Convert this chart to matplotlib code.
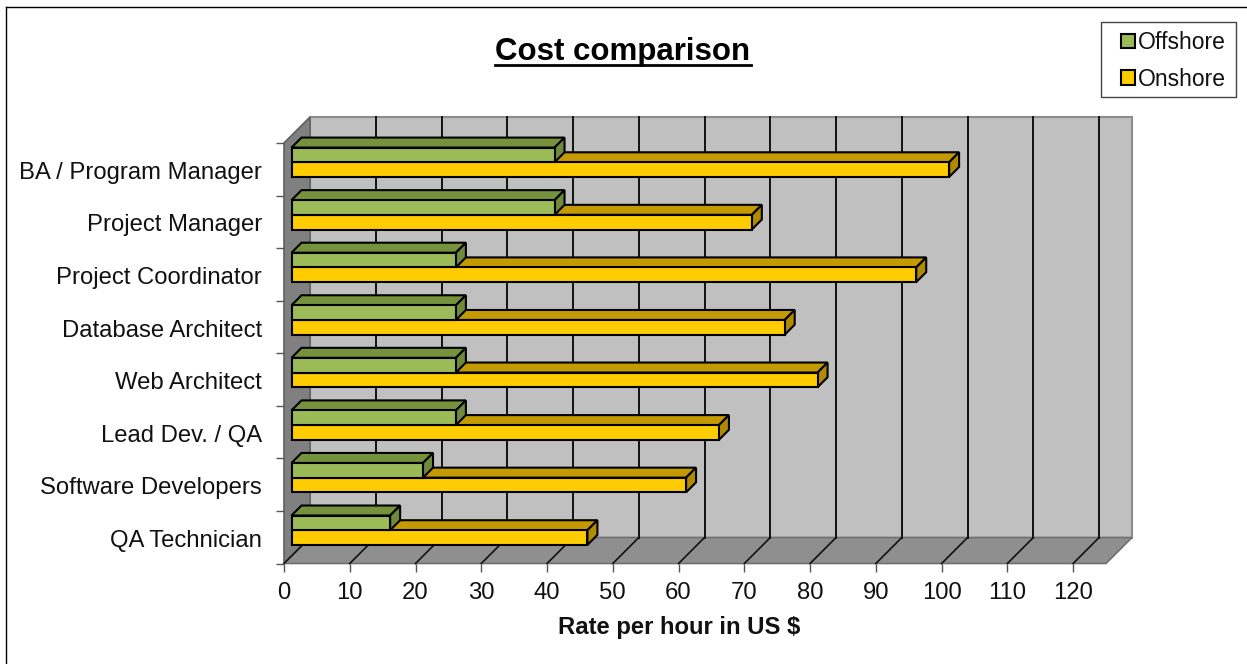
import matplotlib
matplotlib.use("Agg")
import matplotlib.pyplot as plt
from matplotlib.patches import Polygon, Rectangle, Patch
from matplotlib.lines import Line2D

plt.rcParams['font.family'] = ['Liberation Sans', 'DejaVu Sans']

categories = ["BA / Program Manager", "Project Manager", "Project Coordinator",
              "Database Architect", "Web Architect", "Lead Dev. / QA",
              "Software Developers", "QA Technician"]
offshore = [40, 40, 25, 25, 25, 25, 20, 15]
onshore = [100, 70, 95, 75, 80, 65, 60, 45]
xticks = list(range(0, 130, 10))
series_names = ["Offshore", "Onshore"]
title = "Cost comparison"
xlabel = "Rate per hour in US $"

W, H = 1247, 664
fig = plt.figure(figsize=(W / 100, H / 100), dpi=100, facecolor="white")

# front plane of the pseudo-3D box, pixel rectangle
L, R, T, B = 284.0, 1106.0, 143.0, 563.5
ax = fig.add_axes([L / W, 1 - B / H, (R - L) / W, (B - T) / H])
ax.set_xlim(0, 125)
ax.set_ylim(len(categories), 0)
ax.patch.set_visible(False)
for s in ax.spines.values():
    s.set_visible(False)

ux = (R - L) / 125
uy = (B - T) / len(categories)
DEPTH = 26.0
BOX_DX, BOX_DY = DEPTH / ux, DEPTH / uy
ymax = len(categories)
xmax = 125


def poly(pts, fc, ec, lw, z):
    ax.add_patch(Polygon(pts, closed=True, facecolor=fc, edgecolor=ec, linewidth=lw,
                         zorder=z, clip_on=False, joinstyle="miter"))


# walls and floor
WALL_EDGE = "#8c8c8c"
poly([(BOX_DX, -BOX_DY), (xmax + BOX_DX, -BOX_DY), (xmax + BOX_DX, ymax - BOX_DY), (BOX_DX, ymax - BOX_DY)],
     "#c0c0c0", WALL_EDGE, 1.5, 1)
poly([(0, 0), (BOX_DX, -BOX_DY), (BOX_DX, ymax - BOX_DY), (0, ymax)], "#808080", "#606060", 1.2, 1.1)
poly([(0, ymax), (BOX_DX, ymax - BOX_DY), (xmax + BOX_DX, ymax - BOX_DY), (xmax, ymax)],
     "#8f8f8f", "#707070", 1.2, 1.1)

# gridlines: back wall and floor
for v in xticks[1:]:
    ax.plot([v + BOX_DX, v + BOX_DX], [-BOX_DY, ymax - BOX_DY], color="#111111", lw=1.4, zorder=1.5, clip_on=False)
for v in xticks:
    ax.plot([v, v + BOX_DX], [ymax, ymax - BOX_DY], color="#111111", lw=1.2, zorder=1.5, clip_on=False)

# bars
SHIFT = 7.5
BAR_H = 14.7 / uy
BAR_D = 10.0
sx, sy = SHIFT / ux, 7.0 / uy
dx, dy = BAR_D / ux, BAR_D / uy


def bar3d(y0, y1, value, front, top, side, z):
    x0 = sx
    x1 = sx + value
    poly([(x0, y0), (x0 + dx, y0 - dy), (x1 + dx, y0 - dy), (x1, y0)], top, "black", 1.5, z)
    poly([(x1, y0), (x1 + dx, y0 - dy), (x1 + dx, y1 - dy), (x1, y1)], side, "black", 1.5, z)
    poly([(x0, y0), (x1, y0), (x1, y1), (x0, y1)], front, "black", 1.5, z + 0.1)


for i, (off, on) in enumerate(zip(offshore, onshore)):
    mid = i + 0.5 - sy
    bar3d(mid, mid + BAR_H, on, "#ffcc00", "#c49a00", "#b08a00", 3 + i * 0.01)
    bar3d(mid - BAR_H, mid, off, "#9bbb59", "#76923c", "#6f8a3a", 4 + i * 0.01)

# axes ticks and text
ax.set_xticks(xticks)
ax.set_xticklabels([str(v) for v in xticks], fontsize=17.2, color="#111111")
ax.set_yticks(range(len(categories) + 1))
ax.set_yticklabels([])
ax.set_yticks([i + 0.52 for i in range(len(categories))], labels=categories, minor=True,
              fontsize=17.2, color="#111111")
ax.tick_params(axis="x", which="major", length=6, width=1, color="#555555", pad=7)
ax.tick_params(axis="y", which="major", length=6, width=1, color="#555555")
ax.tick_params(axis="y", which="minor", length=0, pad=16)
ax.set_xlabel(xlabel, fontsize=17.2, fontweight="bold", color="#111111")
ax.xaxis.set_label_coords(0.481, -0.1255)

# title (underline drawn as a figure line)
fig.text(623 / W, 1 - 52 / H, title, fontsize=22.5, fontweight="bold", ha="center", va="center", color="black")
fig.add_artist(Line2D([495 / W, 751 / W], [1 - 65 / H, 1 - 65 / H], color="black", lw=2))

# picture frame
fig.add_artist(Line2D([6 / W, 6 / W], [0, 1 - 6.5 / H], color="black", lw=1))
fig.add_artist(Line2D([6 / W, 1], [1 - 6.5 / H, 1 - 6.5 / H], color="black", lw=1))

# legend
fig.add_artist(Rectangle((1100.5 / W, 1 - 97 / H), 135.5 / W, 75 / H, transform=fig.transFigure,
                         facecolor="white", edgecolor="#444444", lw=1))
handles = [Patch(facecolor="#9bbb59", edgecolor="black", lw=1.5),
           Patch(facecolor="#ffcc00", edgecolor="black", lw=1.5)]
leg = fig.legend(handles, series_names, loc="upper left", bbox_to_anchor=(1121 / W, 1 - 31 / H),
                 frameon=False, fontsize=16.5, borderpad=0, borderaxespad=0,
                 handlelength=0.62, handleheight=0.62, handletextpad=0.13, labelspacing=0.6,
                 labelcolor="#111111")

fig.savefig("out.png", dpi=100, facecolor="white")
